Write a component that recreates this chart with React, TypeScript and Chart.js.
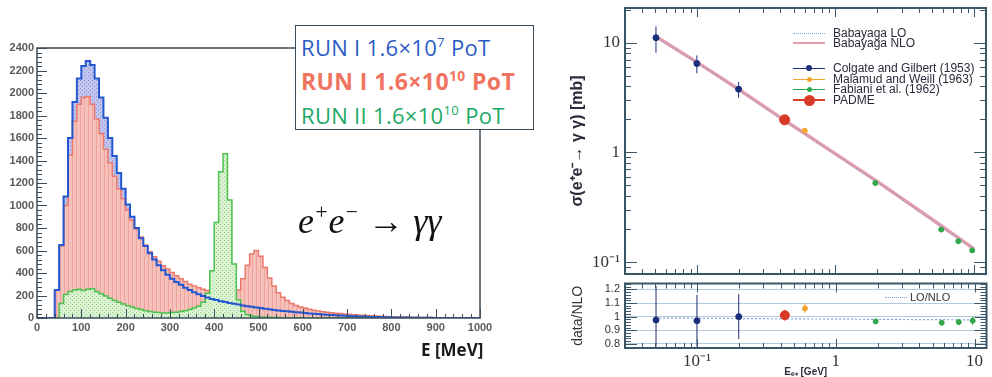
import React, { useEffect, useRef } from "react";
import { Chart, registerables } from "chart.js";

Chart.register(...registerables);

// ---------------- Left panel: photon-pair energy histograms ----------------
const BIN_LOW_EDGES = [
  0, 10, 20, 30, 40, 50, 60, 70, 80, 90,
  100, 110, 120, 130, 140, 150, 160, 170, 180, 190,
  200, 210, 220, 230, 240, 250, 260, 270, 280, 290,
  300, 310, 320, 330, 340, 350, 360, 370, 380, 390,
  400, 410, 420, 430, 440, 450, 460, 470, 480, 490,
  500, 510, 520, 530, 540, 550, 560, 570, 580, 590,
  600, 610, 620, 630, 640, 650, 660, 670, 680, 690,
  700, 710, 720, 730, 740, 750, 760, 770, 780, 790,
  800, 810, 820, 830, 840, 850, 860, 870, 880, 890,
  900, 910, 920, 930, 940, 950, 960, 970, 980, 990,
];
const HIST_X_END = 1000;

// RUN I 1.6x10^7 PoT (scaled)
const RUN1_LOW_POT = [
  0, 0, 0, 0, 250, 650, 1080, 1600, 1920, 2130,
  2240, 2285, 2250, 2130, 1960, 1780, 1600, 1440, 1290, 1150,
  1010, 900, 800, 710, 640, 575, 520, 470, 425, 385,
  350, 320, 295, 270, 250, 230, 212, 196, 182, 170,
  160, 150, 142, 134, 126, 119, 112, 105, 99, 93,
  88, 82, 77, 72, 67, 63, 59, 55, 51, 48,
  44, 41, 38, 35, 32, 29, 27, 24, 22, 20,
  18, 16, 14, 13, 11, 10, 9, 8, 7, 6,
  5, 5, 4, 4, 3, 3, 2, 2, 2, 1,
  1, 1, 1, 1, 1, 1, 0, 0, 0, 0,
];

// RUN I 1.6x10^10 PoT
const RUN1_HIGH_POT = [
  0, 0, 0, 0, 250, 640, 1000, 1450, 1750, 1900,
  1960, 1970, 1900, 1770, 1640, 1500, 1380, 1260, 1150, 1060,
  960, 870, 790, 720, 650, 590, 545, 505, 465, 435,
  405, 375, 350, 325, 300, 285, 270, 255, 245, 235,
  240, 228, 245, 235, 215, 250, 350, 470, 570, 600,
  550, 450, 355, 285, 225, 185, 155, 128, 112, 98,
  88, 78, 68, 62, 56, 51, 46, 43, 39, 36,
  33, 30, 27, 25, 22, 20, 18, 16, 14, 12,
  11, 10, 9, 8, 7, 6, 5, 5, 4, 4,
  3, 3, 3, 2, 2, 2, 2, 1, 1, 1,
];

// RUN II 1.6x10^10 PoT
const RUN2_HIGH_POT = [
  0, 0, 0, 0, 0, 130, 210, 235, 250, 255,
  245, 255, 260, 235, 215, 195, 175, 155, 140, 125,
  110, 98, 85, 75, 65, 58, 52, 48, 45, 45,
  48, 52, 58, 65, 75, 88, 105, 140, 220, 420,
  850, 1300, 1460, 1050, 480, 160, 60, 30, 20, 14,
  10, 8, 6, 5, 4, 3, 3, 2, 2, 2,
  1, 1, 1, 1, 1, 1, 1, 1, 1, 1,
  0, 0, 0, 0, 0, 0, 0, 0, 0, 0,
  0, 0, 0, 0, 0, 0, 0, 0, 0, 0,
  0, 0, 0, 0, 0, 0, 0, 0, 0, 0,
];

const HIST_X_TICKS = [0, 100, 200, 300, 400, 500, 600, 700, 800, 900, 1000];
const HIST_Y_TICKS = [0, 200, 400, 600, 800, 1000, 1200, 1400, 1600, 1800, 2000, 2200, 2400];
const HIST_X_MINOR = 20;
const HIST_Y_MINOR = 40;

// ---------------- Right panel: cross section ----------------
const BABAYAGA_E = [0.05, 0.1, 0.2, 0.43, 0.6, 1, 2, 5, 10];
const BABAYAGA_NLO = [11.5, 6.65, 3.77, 1.96, 1.49, 0.97, 0.545, 0.245, 0.132];
const BABAYAGA_LO = [11.35, 6.55, 3.71, 1.93, 1.47, 0.955, 0.536, 0.241, 0.13];
const LO_OVER_NLO = [0.99, 0.988, 0.986, 0.984, 0.983, 0.982, 0.98, 0.978, 0.976];

const COLGATE_E = [0.0507, 0.1, 0.2];
const COLGATE_SIGMA = [11.1, 6.46, 3.77];
const COLGATE_ERR = [3.0, 1.2, 0.62];
const COLGATE_RATIO = [0.975, 0.97, 1.0];
const COLGATE_RATIO_ERR = [0.25, 0.19, 0.165];

const MALAMUD_E = [0.6];
const MALAMUD_SIGMA = [1.58];
const MALAMUD_ERR = [0.05];
const MALAMUD_RATIO = [1.06];
const MALAMUD_RATIO_ERR = [0.035];

const FABIANI_E = [1.94, 5.8, 7.7, 9.7];
const FABIANI_SIGMA = [0.526, 0.198, 0.155, 0.128];
const FABIANI_ERR = [0.008, 0.003, 0.003, 0.004];
const FABIANI_RATIO = [0.965, 0.955, 0.96, 0.97];
const FABIANI_RATIO_ERR = [0.015, 0.015, 0.02, 0.03];

const PADME_E = [0.43];
const PADME_SIGMA = [1.98];
const PADME_ERR = [0.1];
const PADME_RATIO = [1.01];
const PADME_RATIO_ERR = [0.04];

const E_MIN = 0.0303;
const E_MAX = 12.2;
const SIGMA_MIN = 0.078;
const SIGMA_MAX = 20.7;
const RATIO_MIN = 0.77;
const RATIO_MAX = 1.243;

const E_TICKS = [0.1, 1, 10];
const E_TICK_LABELS = ["10\u207B\u00B9", "1", "10"];
const SIGMA_TICKS = [0.1, 1, 10];
const SIGMA_TICK_LABELS = ["10\u207B\u00B9", "1", "10"];
const RATIO_TICKS = [0.8, 0.9, 1, 1.1, 1.2];
const RATIO_TICK_LABELS = ["0.8", "0.9", "1", "1.1", "1.2"];

const C_COLGATE = "#1b2f7a";
const C_MALAMUD = "#f5a52e";
const C_FABIANI = "#2ea84a";
const C_PADME = "#d93a25";
const C_NLO = "rgba(226,140,155,0.85)";
const C_LO = "#7f9fe0";
const FRAME = "#3b5666";

// ---------------- helpers ----------------
function histPoints(vals: number[]) {
  const pts = BIN_LOW_EDGES.map((x, i) => ({ x, y: vals[i] }));
  pts.push({ x: HIST_X_END, y: vals[vals.length - 1] });
  return pts;
}
function xyPoints(xs: number[], ys: number[]) {
  return xs.map((x, i) => ({ x, y: ys[i] }));
}
function makePattern(bg: string, fg: string, kind: "v" | "dot") {
  const c = document.createElement("canvas");
  c.width = 4;
  c.height = 4;
  const g = c.getContext("2d")!;
  g.fillStyle = bg;
  g.fillRect(0, 0, 4, 4);
  g.fillStyle = fg;
  if (kind === "v") g.fillRect(0, 0, 1, 4);
  else {
    g.fillRect(0, 0, 1, 1);
    g.fillRect(2, 2, 1, 1);
  }
  return g.createPattern(c, "repeat")!;
}
function logTickValues(min: number, max: number) {
  const out: { v: number; major: boolean }[] = [];
  [0.001, 0.01, 0.1, 1, 10, 100].forEach((d) => {
    for (let k = 1; k <= 9; k++) {
      const v = d * k;
      if (v >= min && v <= max) out.push({ v, major: k === 1 });
    }
  });
  return out;
}
function seg(ctx: CanvasRenderingContext2D, x1: number, y1: number, x2: number, y2: number) {
  ctx.beginPath();
  ctx.moveTo(x1, y1);
  ctx.lineTo(x2, y2);
  ctx.stroke();
}
function zeroPad(s: any) {
  s.paddingTop = 0;
  s.paddingBottom = 0;
  s.paddingLeft = 0;
  s.paddingRight = 0;
}

const histFramePlugin = {
  id: "histFrame",
  afterDatasetsDraw(chart: any) {
    const { ctx, chartArea: a, scales } = chart;
    const x = scales.x;
    const y = scales.y;
    ctx.save();
    ctx.strokeStyle = "#3c4c58";
    ctx.lineWidth = 1;
    for (let v = 0; v <= HIST_Y_TICKS[HIST_Y_TICKS.length - 1]; v += HIST_Y_MINOR) {
      const py = Math.round(y.getPixelForValue(v)) + 0.5;
      const len = HIST_Y_TICKS.includes(v) ? 10 : 5;
      seg(ctx, a.left, py, a.left + len, py);
    }
    for (let v = 0; v <= HIST_X_END; v += HIST_X_MINOR) {
      const px = Math.round(x.getPixelForValue(v)) + 0.5;
      const len = HIST_X_TICKS.includes(v) ? 9 : 4;
      seg(ctx, px, a.bottom, px, a.bottom - len);
    }
    ctx.lineWidth = 1.5;
    ctx.strokeRect(a.left, a.top, a.right - a.left, a.bottom - a.top);
    ctx.restore();
  },
};

const errorBarPlugin = {
  id: "errorBars",
  beforeDatasetsDraw(chart: any) {
    const { ctx, chartArea: a, scales } = chart;
    ctx.save();
    ctx.beginPath();
    ctx.rect(a.left, a.top, a.right - a.left, a.bottom - a.top);
    ctx.clip();
    chart.data.datasets.forEach((ds: any, i: number) => {
      if (!ds.errors) return;
      const meta = chart.getDatasetMeta(i);
      ctx.strokeStyle = ds.borderColor;
      ctx.lineWidth = 1;
      meta.data.forEach((pt: any, j: number) => {
        const raw = ds.data[j];
        const e = ds.errors[j];
        const y1 = scales.y.getPixelForValue(raw.y - e);
        const y2 = scales.y.getPixelForValue(raw.y + e);
        seg(ctx, pt.x, y1, pt.x, y2);
      });
    });
    ctx.restore();
  },
};

function drawLogFrame(chart: any, yTicks: { v: number; major: boolean }[]) {
  const { ctx, chartArea: a, scales } = chart;
  ctx.save();
  ctx.strokeStyle = FRAME;
  ctx.lineWidth = 1;
  logTickValues(E_MIN, E_MAX).forEach(({ v, major }) => {
    const px = Math.round(scales.x.getPixelForValue(v)) + 0.5;
    const len = major ? 9 : 5;
    seg(ctx, px, a.top, px, a.top + len);
    seg(ctx, px, a.bottom, px, a.bottom - len);
  });
  yTicks.forEach(({ v, major }) => {
    const py = Math.round(scales.y.getPixelForValue(v)) + 0.5;
    const len = major ? 12 : 6;
    seg(ctx, a.left, py, a.left + len, py);
    seg(ctx, a.right, py, a.right - len, py);
  });
  ctx.lineWidth = 2;
  ctx.strokeRect(a.left, a.top, a.right - a.left, a.bottom - a.top);
  ctx.restore();
}

const mainFramePlugin = {
  id: "mainFrame",
  afterDatasetsDraw(chart: any) {
    drawLogFrame(chart, logTickValues(SIGMA_MIN, SIGMA_MAX));
  },
};

const ratioFramePlugin = {
  id: "ratioFrame",
  afterDatasetsDraw(chart: any) {
    const ticks: { v: number; major: boolean }[] = [];
    for (let k = 39; k <= 62; k++) {
      const v = k / 50;
      if (v >= RATIO_MIN && v <= RATIO_MAX) ticks.push({ v, major: k % 5 === 0 });
    }
    drawLogFrame(chart, ticks);
  },
};

const baseOpts = {
  responsive: false,
  animation: false as const,
  events: [] as any[],
  devicePixelRatio: 1,
};
const noLegend = { legend: { display: false }, tooltip: { enabled: false } };
const plainLabel = (v: any) => String(v);

export default function App() {
  const histRef = useRef<HTMLCanvasElement>(null);
  const mainRef = useRef<HTMLCanvasElement>(null);
  const ratioRef = useRef<HTMLCanvasElement>(null);

  useEffect(() => {
    const charts: Chart[] = [];
    const redFill = makePattern("#f6c0bb", "#eea49d", "v");
    const blueFill = makePattern("#c0c4ee", "#8d94d8", "dot");
    const greenFill = makePattern("#dbf3d2", "#93d488", "dot");

    charts.push(
      new Chart(histRef.current!, {
        type: "line",
        data: {
          datasets: [
            {
              label: "RUN I 1.6x10^7 PoT line",
              data: histPoints(RUN1_LOW_POT),
              stepped: true,
              borderColor: "#2458d0",
              borderWidth: 2,
              pointRadius: 0,
              fill: false,
              order: 0,
            },
            {
              label: "RUN II 1.6x10^10 PoT",
              data: histPoints(RUN2_HIGH_POT),
              stepped: true,
              borderColor: "#4cc150",
              backgroundColor: greenFill,
              borderWidth: 1.5,
              pointRadius: 0,
              fill: "origin",
              order: 1,
            },
            {
              label: "RUN I 1.6x10^10 PoT",
              data: histPoints(RUN1_HIGH_POT),
              stepped: true,
              borderColor: "#ec7a6c",
              backgroundColor: redFill,
              borderWidth: 1.5,
              pointRadius: 0,
              fill: "origin",
              order: 2,
            },
            {
              label: "RUN I 1.6x10^7 PoT fill",
              data: histPoints(RUN1_LOW_POT),
              stepped: true,
              borderColor: "rgba(0,0,0,0)",
              backgroundColor: blueFill,
              borderWidth: 0,
              pointRadius: 0,
              fill: "origin",
              order: 3,
            },
          ] as any,
        },
        options: {
          ...baseOpts,
          layout: { padding: { top: 48, right: 80, bottom: 39, left: 0 } },
          plugins: noLegend,
          scales: {
            x: {
              type: "linear",
              min: 0,
              max: HIST_X_END,
              grid: { display: false, drawTicks: false },
              border: { display: false },
              afterBuildTicks: (s: any) => {
                s.ticks = HIST_X_TICKS.map((v) => ({ value: v }));
              },
              ticks: {
                autoSkip: false,
                maxRotation: 0,
                minRotation: 0,
                padding: 3,
                color: "#5a5a5a",
                font: { family: "Liberation Sans", size: 11, weight: "bold" },
                callback: plainLabel,
              },
              afterFit: (s: any) => {
                s.height = 20;
                zeroPad(s);
              },
            },
            y: {
              type: "linear",
              min: 0,
              max: HIST_Y_TICKS[HIST_Y_TICKS.length - 1],
              grid: { display: false, drawTicks: false },
              border: { display: false },
              afterBuildTicks: (s: any) => {
                s.ticks = HIST_Y_TICKS.map((v) => ({ value: v }));
              },
              ticks: {
                autoSkip: false,
                padding: 3,
                color: "#5a5a5a",
                font: { family: "Liberation Sans", size: 11, weight: "bold" },
                callback: plainLabel,
              },
              afterFit: (s: any) => {
                s.width = 37;
                zeroPad(s);
              },
            },
          } as any,
        },
        plugins: [histFramePlugin],
      })
    );

    charts.push(
      new Chart(mainRef.current!, {
        type: "scatter",
        data: {
          datasets: [
            {
              label: "PADME",
              data: xyPoints(PADME_E, PADME_SIGMA),
              errors: PADME_ERR,
              borderColor: C_PADME,
              backgroundColor: C_PADME,
              pointRadius: 5,
              order: 0,
            },
            {
              label: "Colgate and Gilbert (1953)",
              data: xyPoints(COLGATE_E, COLGATE_SIGMA),
              errors: COLGATE_ERR,
              borderColor: C_COLGATE,
              backgroundColor: C_COLGATE,
              pointRadius: 3,
              order: 1,
            },
            {
              label: "Malamud and Weill (1963)",
              data: xyPoints(MALAMUD_E, MALAMUD_SIGMA),
              errors: MALAMUD_ERR,
              borderColor: C_MALAMUD,
              backgroundColor: C_MALAMUD,
              pointRadius: 2.5,
              order: 1,
            },
            {
              label: "Fabiani et al. (1962)",
              data: xyPoints(FABIANI_E, FABIANI_SIGMA),
              errors: FABIANI_ERR,
              borderColor: C_FABIANI,
              backgroundColor: C_FABIANI,
              pointRadius: 2.5,
              order: 1,
            },
            {
              label: "Babayaga LO",
              data: xyPoints(BABAYAGA_E, BABAYAGA_LO),
              showLine: true,
              borderColor: C_LO,
              borderWidth: 1,
              borderDash: [2, 2],
              pointRadius: 0,
              order: 2,
            },
            {
              label: "Babayaga NLO",
              data: xyPoints(BABAYAGA_E, BABAYAGA_NLO),
              showLine: true,
              borderColor: C_NLO,
              borderWidth: 3.5,
              pointRadius: 0,
              order: 3,
            },
          ] as any,
        },
        options: {
          ...baseOpts,
          layout: { padding: { top: 8, right: 4, bottom: 3, left: 0 } },
          plugins: noLegend,
          scales: {
            x: { type: "logarithmic", min: E_MIN, max: E_MAX, display: false },
            y: {
              type: "logarithmic",
              min: SIGMA_MIN,
              max: SIGMA_MAX,
              grid: { display: false, drawTicks: false },
              border: { display: false },
              afterBuildTicks: (s: any) => {
                s.ticks = SIGMA_TICKS.map((v) => ({ value: v }));
              },
              ticks: {
                autoSkip: false,
                padding: 5,
                color: "#333",
                font: { family: "Liberation Serif", size: 17 },
                callback: (v: any) => SIGMA_TICK_LABELS[SIGMA_TICKS.indexOf(Number(v))] ?? "",
              },
              title: {
                display: true,
                text: "\u03C3(e\u207Ae\u207B\u2192 \u03B3 \u03B3) [mb]",
                color: "#2b2b3b",
                font: { family: "Liberation Sans", size: 16, weight: "bold" },
                padding: { top: 8, bottom: 0 },
              },
              afterFit: (s: any) => {
                s.width = 65;
                zeroPad(s);
              },
            },
          } as any,
        },
        plugins: [errorBarPlugin, mainFramePlugin],
      })
    );

    charts.push(
      new Chart(ratioRef.current!, {
        type: "scatter",
        data: {
          datasets: [
            {
              label: "PADME",
              data: xyPoints(PADME_E, PADME_RATIO),
              errors: PADME_RATIO_ERR,
              borderColor: C_PADME,
              backgroundColor: C_PADME,
              pointRadius: 4.5,
              order: 0,
            },
            {
              label: "Colgate and Gilbert (1953)",
              data: xyPoints(COLGATE_E, COLGATE_RATIO),
              errors: COLGATE_RATIO_ERR,
              borderColor: C_COLGATE,
              backgroundColor: C_COLGATE,
              pointRadius: 3,
              order: 1,
            },
            {
              label: "Malamud and Weill (1963)",
              data: xyPoints(MALAMUD_E, MALAMUD_RATIO),
              errors: MALAMUD_RATIO_ERR,
              borderColor: C_MALAMUD,
              backgroundColor: C_MALAMUD,
              pointRadius: 2.5,
              order: 1,
            },
            {
              label: "Fabiani et al. (1962)",
              data: xyPoints(FABIANI_E, FABIANI_RATIO),
              errors: FABIANI_RATIO_ERR,
              borderColor: C_FABIANI,
              backgroundColor: C_FABIANI,
              pointRadius: 2.5,
              order: 1,
            },
            {
              label: "LO/NLO",
              data: xyPoints(BABAYAGA_E, LO_OVER_NLO),
              showLine: true,
              borderColor: C_LO,
              borderWidth: 1.2,
              borderDash: [2, 2],
              pointRadius: 0,
              order: 2,
            },
          ] as any,
        },
        options: {
          ...baseOpts,
          layout: { padding: { top: 4, right: 4, bottom: 0, left: 0 } },
          plugins: noLegend,
          scales: {
            x: {
              type: "logarithmic",
              min: E_MIN,
              max: E_MAX,
              grid: { display: false, drawTicks: false },
              border: { display: false },
              afterBuildTicks: (s: any) => {
                s.ticks = E_TICKS.map((v) => ({ value: v }));
              },
              ticks: {
                autoSkip: false,
                maxRotation: 0,
                minRotation: 0,
                padding: 3,
                color: "#333",
                font: { family: "Liberation Serif", size: 17 },
                callback: (v: any) => E_TICK_LABELS[E_TICKS.indexOf(Number(v))] ?? "",
              },
              title: {
                display: true,
                text: "E\u2091\u208A [GeV]",
                color: "#2b2b3b",
                font: { family: "Liberation Sans", size: 10, weight: "bold" },
                padding: { top: 0, bottom: 0 },
              },
              afterFit: (s: any) => {
                s.height = 30;
                zeroPad(s);
              },
            },
            y: {
              type: "linear",
              min: RATIO_MIN,
              max: RATIO_MAX,
              grid: { display: true, drawTicks: false, color: "#b3cadb", lineWidth: 1 },
              border: { display: false },
              afterBuildTicks: (s: any) => {
                s.ticks = RATIO_TICKS.map((v) => ({ value: v }));
              },
              ticks: {
                autoSkip: false,
                padding: 5,
                color: "#333",
                font: { family: "Liberation Sans", size: 11 },
                callback: (v: any) => {
                  const i = RATIO_TICKS.findIndex((t) => Math.abs(t - Number(v)) < 1e-6);
                  return i >= 0 ? RATIO_TICK_LABELS[i] : "";
                },
              },
              title: {
                display: true,
                text: "data/NLO",
                color: "#333",
                font: { family: "Liberation Sans", size: 14 },
                padding: { top: 10, bottom: 0 },
              },
              afterFit: (s: any) => {
                s.width = 65;
                zeroPad(s);
              },
            },
          } as any,
        },
        plugins: [errorBarPlugin, ratioFramePlugin],
      })
    );

    return () => charts.forEach((c) => c.destroy());
  }, []);

  const abs = (l: number, t: number, extra: React.CSSProperties = {}): React.CSSProperties => ({
    position: "absolute",
    left: l,
    top: t,
    ...extra,
  });
  const sup: React.CSSProperties = { fontSize: "0.6em", position: "relative", top: "-0.65em" };

  const legendRow = (y: number, label: string, color: string, lineH: number, dot: number, dashed = false) => (
    <React.Fragment key={label}>
      <div
        style={abs(793, y - Math.max(lineH, 1) / 2, {
          width: 32,
          height: dashed ? 0 : lineH,
          background: dashed ? "transparent" : color,
          borderTop: dashed ? `1px dotted ${color}` : "none",
        })}
      />
      {dot > 0 && (
        <div
          style={abs(809 - dot / 2, y - dot / 2, {
            width: dot,
            height: dot,
            borderRadius: "50%",
            background: color,
          })}
        />
      )}
      <div
        style={abs(833, y - 7, {
          fontFamily: "Liberation Sans",
          fontSize: 12,
          lineHeight: "14px",
          color: "#2a2a3a",
          whiteSpace: "nowrap",
        })}
      >
        {label}
      </div>
    </React.Fragment>
  );

  return (
    <div
      style={{
        position: "fixed",
        left: 0,
        top: 0,
        width: 992,
        height: 377,
        background: "#fff",
        overflow: "hidden",
      }}
    >
      <canvas ref={histRef} width={560} height={377} style={abs(0, 0)} />
      <canvas ref={mainRef} width={432} height={280} style={abs(560, 0)} />
      <canvas ref={ratioRef} width={432} height={100} style={abs(560, 278)} />

      {/* left legend box */}
      <div
        style={abs(295, 25, {
          width: 239,
          height: 105,
          boxSizing: "border-box",
          border: "1.5px solid #3c4c58",
          background: "#fff",
          fontFamily: "Open Sans",
          fontSize: 22,
          letterSpacing: 0.3,
          lineHeight: "30px",
          paddingTop: 6,
          paddingLeft: 5,
          whiteSpace: "nowrap",
        })}
      >
        <div style={{ color: "#2b5cc4" }}>
          RUN I 1.6×10<span style={sup}>7</span> PoT
        </div>
        <div style={{ color: "#f07460", fontWeight: 700, fontSize: 23, letterSpacing: 0.4 }}>
          RUN I 1.6×10<span style={sup}>10</span> PoT
        </div>
        <div style={{ color: "#22a866" }}>
          RUN II 1.6×10<span style={sup}>10</span> PoT
        </div>
      </div>

      <div
        style={abs(298, 201, {
          fontFamily: "Liberation Serif",
          fontStyle: "italic",
          fontSize: 36,
          lineHeight: "40px",
          color: "#111",
          whiteSpace: "nowrap",
        })}
      >
        e<span style={sup}>+</span>e<span style={sup}>−</span> <span style={{ fontStyle: "normal" }}>→</span> γγ
      </div>

      <div
        style={abs(421, 338, {
          fontFamily: "Open Sans",
          fontWeight: "bold",
          fontSize: 17,
          lineHeight: "24px",
          color: "#1a1a1a",
          whiteSpace: "nowrap",
        })}
      >
        E [MeV]
      </div>

      {/* right legend */}
      {legendRow(33, "Babayaga LO", C_LO, 1, 0, true)}
      {legendRow(43, "Babayaga NLO", C_NLO, 2, 0)}
      {legendRow(68, "Colgate and Gilbert (1953)", C_COLGATE, 1, 6)}
      {legendRow(79, "Malamud and Weill (1963)", C_MALAMUD, 1, 5)}
      {legendRow(89, "Fabiani et al. (1962)", C_FABIANI, 1, 5)}
      {legendRow(100, "PADME", C_PADME, 1.5, 11)}

      {/* ratio legend */}
      <div style={abs(885, 297, { width: 22, height: 0, borderTop: `1px dotted ${C_LO}` })} />
      <div
        style={abs(910, 290, {
          fontFamily: "Liberation Sans",
          fontSize: 11,
          lineHeight: "14px",
          color: "#333",
        })}
      >
        LO/NLO
      </div>
    </div>
  );
}
